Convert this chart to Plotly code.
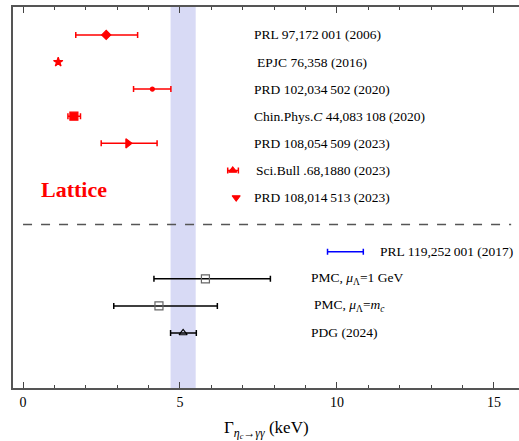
import plotly.graph_objects as go

# ---- data ----
labels = [
    "PRL 97,172\u2009001 (2006)",
    "EPJC 76,358 (2016)",
    "PRD 102,034\u2009502 (2020)",
    "Chin.Phys.<i>C</i> 44,083\u2009108 (2020)",
    "PRD 108,054\u2009509 (2023)",
    "Sci.Bull .68,1880 (2023)",
    "PRD 108,014\u2009513 (2023)",
    "PRL 119,252\u2009001 (2017)",
    "PMC, <i>μ</i><sub>Λ</sub>=1 GeV",
    "PMC, <i>μ</i><sub>Λ</sub>=<i>m</i><sub><i>c</i></sub>",
    "PDG (2024)",
]
rows = [0, 1, 2, 3, 4, 5, 6, 8, 9, 10, 11]
centers = [2.65, 1.12, 4.12, 1.62, 3.34, 6.68, 6.79, 10.27, 5.81, 4.33, 5.10]
err_lo = [1.68, 1.12, 3.52, 1.43, 2.49, 6.52, 6.79, 9.70, 4.17, 2.89, 4.70]
err_hi = [3.65, 1.12, 4.71, 1.83, 4.27, 6.86, 6.79, 10.84, 7.88, 6.19, 5.52]
label_x = [7.3, 7.4, 7.3, 7.3, 7.3, 7.35, 7.3, 11.3, 9.1, 9.2, 9.1]
symbols = ["diamond", "star", "circle", "square", "triangle-right", "triangle-up",
           "triangle-down", "circle", "square-open", "square-open", "triangle-up-open"]
sizes = [7, 7, 4, 8, 8, 7, 7, 1, 8, 8, 7]
colors = ["red"] * 7 + ["blue", "black", "black", "black"]
marker_colors = ["red"] * 7 + ["blue", "#666666", "#666666", "black"]
marker_opacity = [1] * 7 + [0, 1, 1, 1]
band = [4.70, 5.50]
x_ticks = [0, 5, 10, 15]

FONT = "Liberation Serif"

fig = go.Figure()

fig.add_shape(type="rect", xref="x", yref="paper", x0=band[0], x1=band[1], y0=0, y1=1,
              fillcolor="#d8daf5", line=dict(width=0), layer="below")
fig.add_shape(type="line", xref="x", yref="y", x0=0, x1=15.55, y0=-7, y1=-7,
              line=dict(color="#555555", width=1.5, dash="dash"))

for i in range(len(rows)):
    c = centers[i]
    fig.add_trace(go.Scatter(
        x=[c], y=[-rows[i]], mode="markers",
        marker=dict(symbol=symbols[i], size=sizes[i], color=marker_colors[i],
                    opacity=marker_opacity[i],
                    line=dict(width=1.2, color=marker_colors[i])),
        error_x=dict(type="data", symmetric=False, array=[err_hi[i] - c],
                     arrayminus=[c - err_lo[i]], color=colors[i], thickness=1.5,
                     width=3, visible=(err_hi[i] - err_lo[i]) > 0),
        showlegend=False, hoverinfo="skip"))
    fig.add_annotation(x=label_x[i], y=-rows[i], text=labels[i], showarrow=False,
                       xanchor="left", yanchor="middle",
                       font=dict(family=FONT, size=13.5, color="black"))

fig.add_annotation(x=0.5, y=-5.72, text="<b>Lattice</b>", showarrow=False,
                   xanchor="left", yanchor="middle",
                   font=dict(family=FONT, size=22, color="red"))

fig.add_annotation(xref="paper", yref="paper", x=0.5, y=-0.108,
                   text="Γ<sub><i>η</i><sub><i>c</i></sub>→<i>γγ</i></sub> (keV)",
                   showarrow=False, xanchor="center", yanchor="middle",
                   font=dict(family=FONT, size=17, color="black"))

fig.update_layout(
    width=519, height=441,
    margin=dict(l=13, r=0, t=7, b=53),
    plot_bgcolor="white", paper_bgcolor="white",
    xaxis=dict(range=[-0.32, 15.8], tickvals=x_ticks, ticks="inside", ticklen=6,
               tickwidth=1.2, tickcolor="#444444", showline=True, linecolor="#555555",
               linewidth=1.5, mirror="ticks", showgrid=False, zeroline=False,
               tickfont=dict(family=FONT, size=14, color="black"),
               minor=dict(dtick=1, tick0=0, ticks="inside", ticklen=3, tickcolor="#444444",
                          tickwidth=1, showgrid=False)),
    yaxis=dict(range=[-13.03, 1.03], showticklabels=False, ticks="", showline=True,
               linecolor="#555555", linewidth=1.5, showgrid=False, zeroline=False),
)

fig.write_html("out.html")
